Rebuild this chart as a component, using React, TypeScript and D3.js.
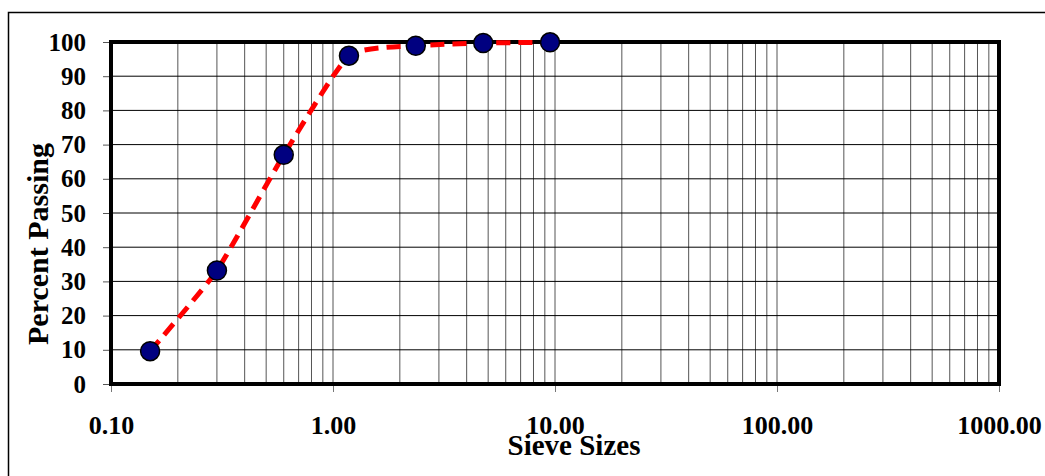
import React, { useRef, useEffect } from "react";
import * as d3 from "d3";

const sieveSizes = [0.15, 0.3, 0.6, 1.18, 2.36, 4.75, 9.5];
const percentPassing = [9.6, 33.2, 67, 96, 98.9, 99.7, 99.9];
const xTickValues = [0.1, 1, 10, 100, 1000];
const yTickValues = [0, 10, 20, 30, 40, 50, 60, 70, 80, 90, 100];

const W = 1045;
const H = 476;
const FONT = "'Liberation Serif', 'Times New Roman', serif";

function App() {
  const svgRef = useRef<SVGSVGElement>(null);

  useEffect(() => {
    const svg = d3.select(svgRef.current);
    svg.selectAll("*").remove();

    const left = 111, right = 999, top = 42, bottom = 384;
    const x = d3.scaleLog().domain([0.1, 1000]).range([left, right]);
    const y = d3.scaleLinear().domain([0, 100]).range([bottom, top]);

    // outer frame (runs off the page right/bottom)
    svg.append("rect")
      .attr("x", 8.5).attr("y", 12.5)
      .attr("width", W).attr("height", H)
      .attr("fill", "white").attr("stroke", "black").attr("stroke-width", 1.5);

    // minor vertical grid
    const minor: number[] = [];
    for (let d = 0.1; d < 1000; d *= 10) {
      for (let k = 2; k <= 9; k++) minor.push(d * k);
    }
    const all = minor.concat(xTickValues.slice(1, -1));
    svg.append("g").selectAll("line").data(all).join("line")
      .attr("x1", (d) => x(d)).attr("x2", (d) => x(d))
      .attr("y1", top).attr("y2", bottom)
      .attr("stroke", "#555").attr("stroke-width", 1);

    // horizontal grid
    svg.append("g").selectAll("line").data(yTickValues.slice(1, -1)).join("line")
      .attr("x1", left).attr("x2", right)
      .attr("y1", (d) => y(d)).attr("y2", (d) => y(d))
      .attr("stroke", "#000").attr("stroke-width", 1);

    // y axis ticks + labels
    const yAxis = d3.axisLeft(y).tickValues(yTickValues).tickSize(8).tickPadding(17).tickFormat(d3.format("d"));
    const gy = svg.append("g").attr("transform", `translate(${left},0)`).call(yAxis);
    gy.select(".domain").remove();
    gy.selectAll("line").attr("stroke", "#555");
    gy.selectAll("text")
      .attr("font-family", FONT).attr("font-weight", "bold").attr("font-size", 25).attr("fill", "black");

    // x axis ticks + labels
    const xAxis = d3.axisBottom(x).tickValues(xTickValues).tickSize(8).tickPadding(24).tickFormat(d3.format(".2f"));
    const gx = svg.append("g").attr("transform", `translate(0,${bottom})`).call(xAxis);
    gx.select(".domain").remove();
    gx.selectAll("line").attr("stroke", "#777");
    gx.selectAll("text")
      .attr("font-family", FONT).attr("font-weight", "bold").attr("font-size", 26).attr("fill", "black");

    // plot frame
    svg.append("rect")
      .attr("x", left).attr("y", top)
      .attr("width", right - left).attr("height", bottom - top)
      .attr("fill", "none").attr("stroke", "black").attr("stroke-width", 4);

    // smoothed dashed line
    const line = d3.line<number>()
      .x((d, i) => x(sieveSizes[i]))
      .y((d) => y(d))
      .curve(d3.curveCardinal.tension(0.5));
    svg.append("path")
      .attr("d", line(percentPassing))
      .attr("fill", "none").attr("stroke", "#ff0000")
      .attr("stroke-width", 5).attr("stroke-dasharray", "14,8");

    // markers
    svg.append("g").selectAll("circle").data(percentPassing).join("circle")
      .attr("cx", (d, i) => x(sieveSizes[i]))
      .attr("cy", (d) => y(d))
      .attr("r", 9.5)
      .attr("fill", "#000080").attr("stroke", "black").attr("stroke-width", 1.5);

    // axis titles
    svg.append("text")
      .attr("x", 574).attr("y", 455)
      .attr("text-anchor", "middle")
      .attr("font-family", FONT).attr("font-weight", "bold").attr("font-size", 29)
      .text("Sieve Sizes");

    svg.append("text")
      .attr("transform", "translate(48,244) rotate(-90)")
      .attr("text-anchor", "middle")
      .attr("font-family", FONT).attr("font-weight", "bold").attr("font-size", 30)
      .text("Percent Passing");
  }, []);

  return (
    <svg ref={svgRef} width={W} height={H}
      style={{ position: "absolute", left: 0, top: 0, background: "white" }} />
  );
}

export default App;
